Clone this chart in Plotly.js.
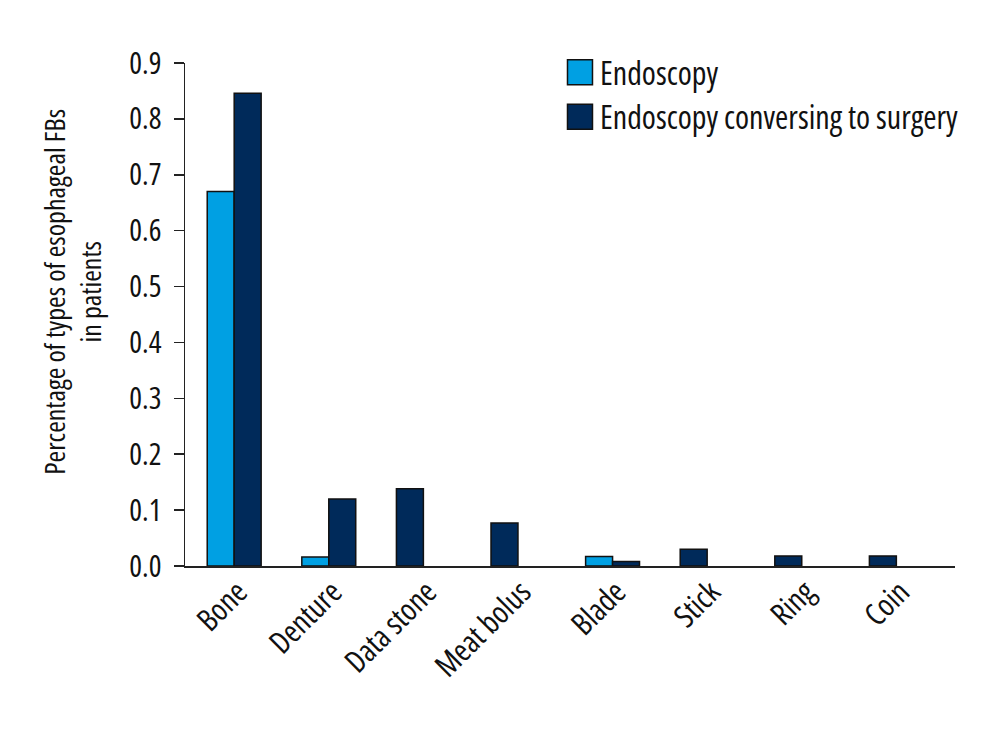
<!DOCTYPE html>
<html><head><meta charset="utf-8">
<script src="https://cdn.plot.ly/plotly-3.0.1.min.js"></script>
<style>
html,body{margin:0;padding:0;background:#fff}
#chart{width:1000px;height:733px}
text{font-stretch:75% !important;}
</style>
</head><body><div id="chart"></div>
<script>
var categories = ["Bone","Denture","Data stone","Meat bolus","Blade","Stick","Ring","Coin"];
var endoscopy = [0.67, 0.016, null, null, 0.017, null, null, null];
var conversion = [0.846, 0.12, 0.138, 0.077, 0.008, 0.030, 0.018, 0.018];
var seriesNames = ["Endoscopy", "Endoscopy conversing to surgery"];
var yTicks = [0,0.1,0.2,0.3,0.4,0.5,0.6,0.7,0.8,0.9];
var yTitle = 'Percentage of types of esophageal FBs<br>in patients';

var BW = 0.285;
var FONT = "'Open Sans',sans-serif";
var idx = categories.map(function(_, i){ return i; });
var convOffset = endoscopy.map(function(v){ return v === null ? -BW : 0; });

var traces = [
  {type:'bar', name:seriesNames[0], x:idx, y:endoscopy, width:BW, offset:-BW,
   marker:{color:'#00A0E3', line:{color:'#111', width:1.5}}},
  {type:'bar', name:seriesNames[1], x:idx, y:conversion, width:BW, offset:convOffset,
   marker:{color:'#002A5A', line:{color:'#111', width:1.5}}}
];

var layout = {
  width:1000, height:733,
  margin:{l:185, r:45, t:63, b:167, autoexpand:false},
  paper_bgcolor:'#fff', plot_bgcolor:'#fff',
  barmode:'overlay',
  font:{family:FONT, size:22, color:'#111'},
  showlegend:true,
  legend:{x:0.487, y:1.036, xanchor:'left', yanchor:'top', bgcolor:'rgba(0,0,0,0)',
          font:{family:FONT, size:32, color:'#111'}, tracegroupgap:0, itemwidth:30},
  xaxis:{range:[-0.52, 7.62], tickmode:'array', tickvals:idx, ticktext:categories,
         tickangle:-45, showline:true, linecolor:'#222', linewidth:1.5, ticks:'',
         ticklabelshift:4, ticklabelstandoff:-6,
         showgrid:false, zeroline:false, tickfont:{family:FONT, size:31, color:'#111'}},
  yaxis:{range:[0,0.9], tickmode:'array', tickvals:yTicks, ticktext:yTicks.map(function(v){return v.toFixed(1);}),
         showline:true, linecolor:'#222', linewidth:1.5, ticks:'outside', ticklen:10, tickwidth:1.5, tickcolor:'#222',
         ticklabelstandoff:6,
         showgrid:false, zeroline:false, tickfont:{family:FONT, size:30, color:'#111'}},
  annotations:[{text:yTitle, textangle:-90, showarrow:false,
                xref:'paper', yref:'paper', x:-0.147, y:0.545, xanchor:'center', yanchor:'middle',
                font:{family:FONT, size:28, color:'#111'}}]
};

Plotly.newPlot('chart', traces, layout, {displayModeBar:false, staticPlot:true}).then(function(gd){
  var paths = gd.querySelectorAll('.legendpoints path');
  paths.forEach(function(p){ p.setAttribute('d','M12.5,12.5H-12.5V-12.5H12.5Z'); });
});
</script></body></html>
